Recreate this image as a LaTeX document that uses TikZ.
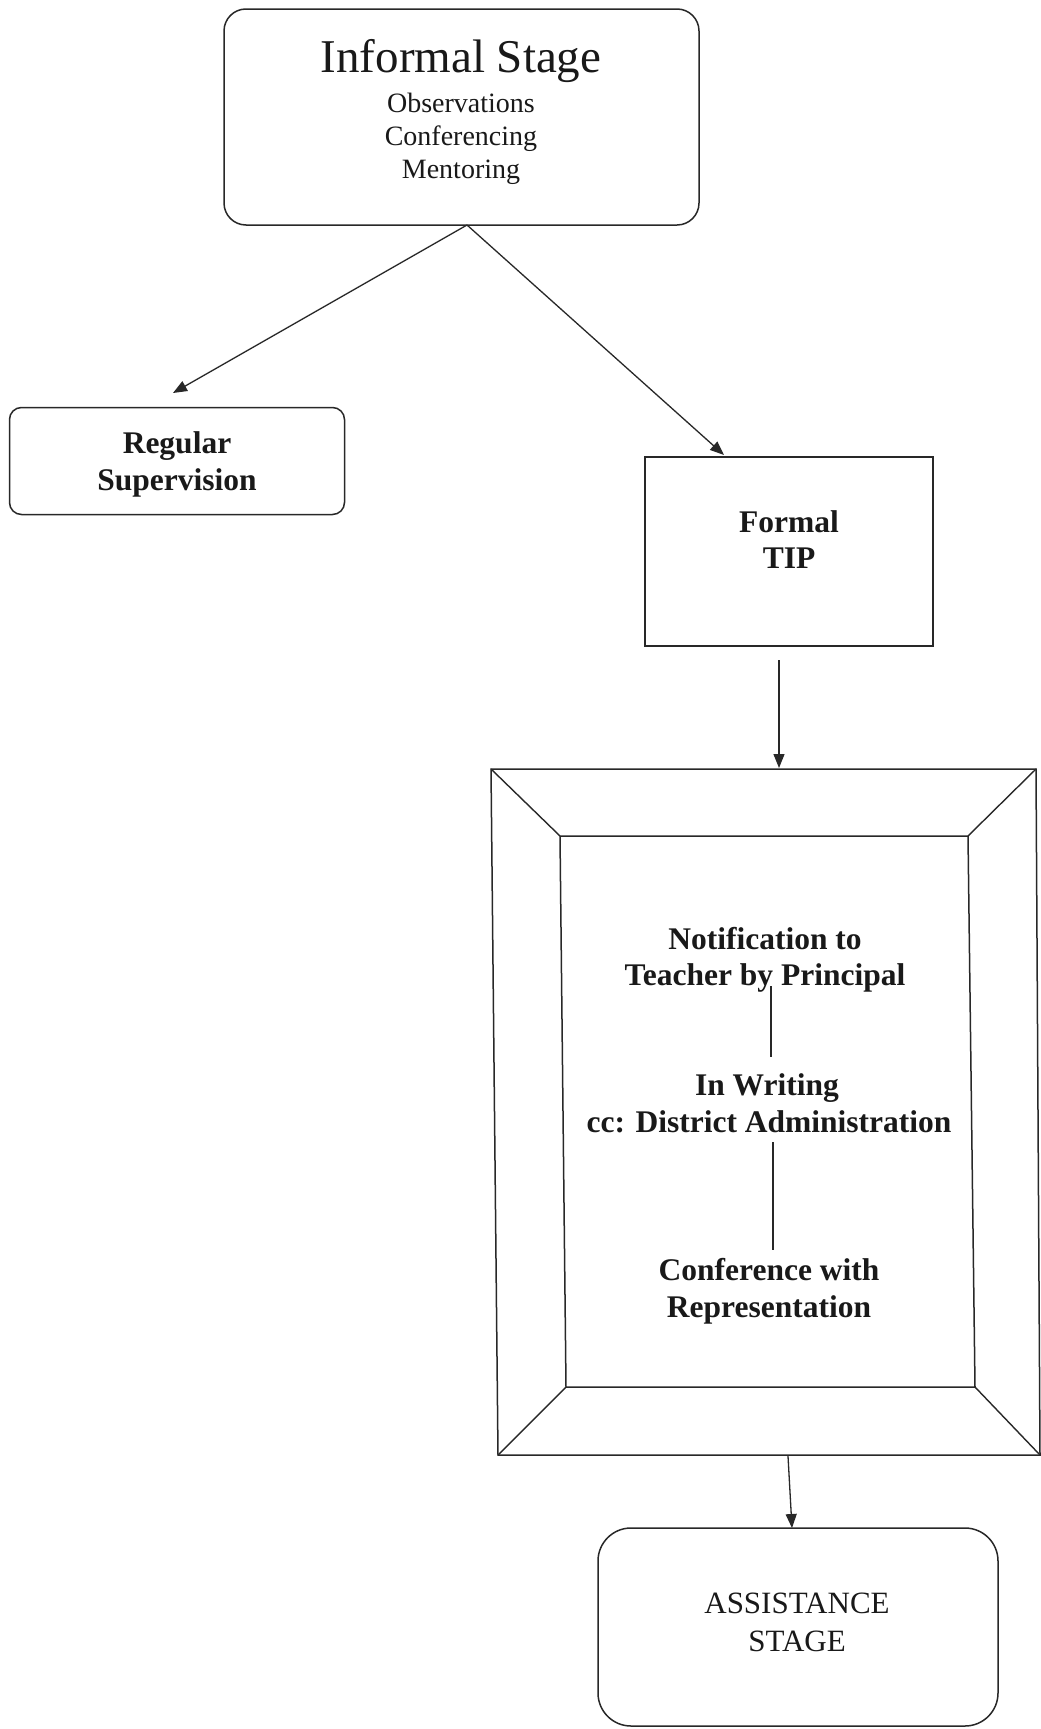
\documentclass[tikz,border=0pt]{standalone}
\usepackage{fontspec}
\setmainfont{Liberation Serif}
\usetikzlibrary{arrows.meta}
\definecolor{ink}{RGB}{40,40,40}
\definecolor{txt}{RGB}{25,25,25}
\begin{document}
\begin{tikzpicture}[x=1pt,y=-1pt,
  box/.style={draw=ink, line width=1.5pt, inner sep=0pt},
  rbox/.style={box, rounded corners=#1},
  lbl/.style={text=txt, inner sep=0pt, anchor=base},
  big/.style={font=\fontsize{47}{56}\selectfont},
  small/.style={font=\fontsize{28}{33}\selectfont},
  bold/.style={font=\fontsize{31.5}{36}\selectfont\bfseries},
  reg/.style={font=\fontsize{31}{36}\selectfont},
  arr/.style={draw=ink, line width=1.3pt, -{Triangle[length=14pt,width=11pt]}},
  link/.style={draw=ink, line width=1.3pt},
  ]
\useasboundingbox (0,0) rectangle (1041,1729);
\fill[white] (0,0) rectangle (1041,1729);

% Informal stage
\node[rbox=22pt, minimum width=475pt, minimum height=216pt] (inf) at (461.5,117) {};
\node[lbl, big] (inft) at (461,72) {Informal Stage};
\node[lbl, small] (obs) at (461,112) {Observations};
\node[lbl, small] (conf) at (461,145) {Conferencing};
\node[lbl, small] (ment) at (461,178) {Mentoring};

% Regular supervision
\node[rbox=12pt, minimum width=335pt, minimum height=107pt] (regb) at (177,461) {};
\node[lbl, bold] (reg1) at (177,453) {Regular};
\node[lbl, bold] (reg2) at (177,490) {Supervision};

% Formal TIP
\node[box, minimum width=288pt, minimum height=189pt] (formal) at (789,551.5) {};
\node[lbl, bold] (for1) at (789,532) {Formal};
\node[lbl, bold] (for2) at (789,568) {TIP};

% Frame
\coordinate (oTL) at (491,769);
\coordinate (oTR) at (1036,769);
\coordinate (oBR) at (1040,1455);
\coordinate (oBL) at (498,1455);
\coordinate (iTL) at (560,836);
\coordinate (iTR) at (968,836);
\coordinate (iBR) at (975,1387);
\coordinate (iBL) at (566,1387);
\draw[ink, line width=1.5pt, line join=miter] (oTL) -- (oTR) -- (oBR) -- (oBL) -- cycle;
\draw[ink, line width=1.5pt, line join=miter] (iTL) -- (iTR) -- (iBR) -- (iBL) -- cycle;
\draw[ink, line width=1.4pt] (oTL) -- (iTL) (oTR) -- (iTR) (oBR) -- (iBR) (oBL) -- (iBL);

\node[lbl, bold] (n1) at (765,949) {Notification to};
\node[lbl, bold] (n2) at (765,985) {Teacher by Principal};
\node[lbl, bold] (w1) at (767,1095) {In Writing};
\node[lbl, bold] (w2) at (769,1132) {cc: District Administration};
\node[lbl, bold] (c1) at (769,1280) {Conference with};
\node[lbl, bold] (c2) at (769,1317) {Representation};

\coordinate (l1a) at (771,986);
\coordinate (l1b) at (771,1057);
\coordinate (l2a) at (773,1142);
\coordinate (l2b) at (773,1250);
\draw[link] (l1a) -- (l1b);
\draw[link] (l2a) -- (l2b);

% Assistance stage
\node[rbox=33pt, minimum width=400pt, minimum height=198pt] (assist) at (798,1627) {};
\node[lbl, reg] (as1) at (797,1613) {ASSISTANCE};
\node[lbl, reg] (as2) at (797,1651) {STAGE};

% Arrows
\coordinate (s1) at (467,225);
\coordinate (t1) at (173,393);
\coordinate (t2) at (724,455);
\coordinate (s3) at (779,660);
\coordinate (t3) at (779,768);
\coordinate (s4) at (788,1456);
\coordinate (t4) at (792,1528);
\draw[arr] (s1) -- (t1);
\draw[arr] (s1) -- (t2);
\draw[arr] (s3) -- (t3);
\draw[arr] (s4) -- (t4);
\end{tikzpicture}
\end{document}
